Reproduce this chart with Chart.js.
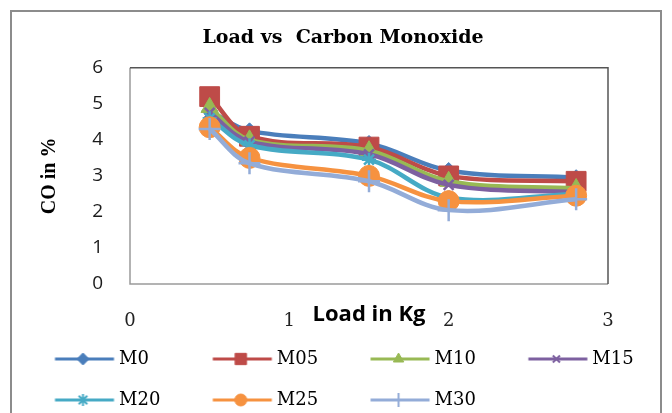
<!DOCTYPE html>
<html>
<head>
<meta charset="utf-8">
<script src="https://cdn.jsdelivr.net/npm/chart.js@4/dist/chart.umd.min.js"></script>
<style>
  html, body { margin: 0; padding: 0; background: #fff; }
</style>
</head>
<body>
<canvas id="chart" width="672" height="413"></canvas>
<script>
// load (kg) on the x axis, CO (%) for each blend
const loads = [0.5, 0.75, 1.5, 2, 2.8];
const m0  = [4.8, 4.25, 3.9, 3.15, 2.95];
const m05 = [5.2, 4.1, 3.8, 3.0, 2.85];
const m10 = [4.9, 4.0, 3.7, 2.85, 2.65];
const m15 = [4.75, 3.95, 3.6, 2.75, 2.55];
const m20 = [4.6, 3.85, 3.45, 2.4, 2.5];
const m25 = [4.35, 3.5, 3.0, 2.3, 2.45];
const m30 = [4.3, 3.35, 2.85, 2.05, 2.35];

const seriesNames = ['M0', 'M05', 'M10', 'M15', 'M20', 'M25', 'M30'];
const seriesValues = [m0, m05, m10, m15, m20, m25, m30];
const xTicks = [0, 1, 2, 3];
const yTicks = [0, 1, 2, 3, 4, 5, 6];

// excel 2007 palette
const colors = ['#4a7ebb', '#be4b48', '#98b954', '#7d60a0', '#46aac5', '#f69240', '#93acd8'];
const markers = ['rectRot', 'rect', 'triangle', 'crossRot', 'star', 'circle', 'cross'];
const markerSize = [8, 14, 10, 7, 7, 10.5, 11];
const legendMarker = [6, 8, 6, 5, 6, 6, 7];
const crossLike = ['crossRot', 'star', 'cross'];

// legend sample: line with the marker in the middle
function legendIcon(i) {
    const c = document.createElement('canvas');
    c.width = 120;
    c.height = 24;
    const g = c.getContext('2d');
    g.strokeStyle = colors[i];
    g.fillStyle = colors[i];
    g.lineWidth = 3;
    g.beginPath();
    g.moveTo(41.5, 12);
    g.lineTo(100.5, 12);
    g.stroke();
    g.lineWidth = crossLike.includes(markers[i]) ? 2 : 1;
    Chart.helpers.drawPoint(g, { pointStyle: markers[i], radius: legendMarker[i], rotation: 0, borderWidth: g.lineWidth }, 69.5, 12);
    return c;
}
const icons = seriesNames.map((n, i) => legendIcon(i));

const datasets = seriesValues.map((vals, i) => {
    return {
        label: seriesNames[i],
        data: loads.map((x, j) => ({ x: x, y: vals[j] })),
        showLine: true,
        borderColor: colors[i],
        backgroundColor: colors[i],
        borderWidth: 4.5,
        tension: 0.35,
        pointStyle: markers[i],
        pointRadius: markerSize[i],
        pointBorderWidth: crossLike.includes(markers[i]) ? 2.5 : 1,
        pointBorderColor: colors[i],
        pointBackgroundColor: colors[i],
        order: seriesNames.length - i // later series on top, like excel
    }
});

const framePlugin = {
    id: 'frame',
    beforeDatasetsDraw(chart) {
        const { ctx, chartArea: a } = chart;
        ctx.save();
        ctx.strokeStyle = '#8c8c8c';
        ctx.lineWidth = 2;
        ctx.strokeRect(11, 11, 650, 440);
        ctx.lineWidth = 1.5;
        ctx.strokeStyle = '#9a9a9a';
        ctx.beginPath();
        ctx.moveTo(a.left, a.top);
        ctx.lineTo(a.left, a.bottom);
        ctx.lineTo(a.right, a.bottom);
        ctx.stroke();
        ctx.strokeStyle = '#555';
        ctx.beginPath();
        ctx.moveTo(a.left, a.top);
        ctx.lineTo(a.right, a.top);
        ctx.lineTo(a.right, a.bottom);
        ctx.stroke();
        ctx.restore();
    }
};

new Chart(document.getElementById('chart'), {
    type: 'scatter',
    data: { datasets: datasets },
    plugins: [framePlugin],
    options: {
        responsive: false,
        animation: false,
        layout: { padding: { left: 14, right: 0, top: 0, bottom: -6 } },
        plugins: {
            tooltip: { enabled: false },
            title: {
                display: true,
                text: 'Load vs  Carbon Monoxide',
                color: '#000',
                font: { family: 'DejaVu Serif', size: 19, weight: 'bold' },
                padding: { top: 27, bottom: 18 }
            },
            legend: {
                position: 'bottom',
                align: 'start',
                onClick: null,
                labels: {
                    color: '#111',
                    font: { family: 'DejaVu Serif', size: 18 },
                    usePointStyle: true,
                    pointStyleWidth: 73,
                    boxHeight: 18,
                    padding: 23,
                    generateLabels: function (chart) {
                        return seriesNames.map((name, i) => ({
                            text: name + (name.length === 2 ? '    ' : '  '),
                            pointStyle: icons[i],
                            datasetIndex: i,
                            fillStyle: colors[i],
                            strokeStyle: colors[i],
                            lineWidth: 0,
                            hidden: false
                        }));
                    }
                }
            }
        },
        scales: {
            x: {
                type: 'linear',
                min: 0,
                max: 3,
                afterBuildTicks: s => { s.ticks = xTicks.map(v => ({ value: v })); },
                grid: { display: false, drawTicks: false },
                border: { display: false },
                ticks: {
                    padding: 27,
                    color: '#222',
                    font: { family: 'DejaVu Serif', size: 18 }
                },
                title: {
                    display: true,
                    text: 'Load in Kg',
                    color: '#000',
                    font: { family: 'Open Sans', size: 22, weight: 'bold' },
                    padding: { top: -58, bottom: -1 }
                }
            },
            y: {
                type: 'linear',
                min: 0,
                max: 6,
                afterBuildTicks: s => { s.ticks = yTicks.map(v => ({ value: v })); },
                afterFit: s => { s.width = 116; },
                grid: { display: false, drawTicks: false },
                border: { display: false },
                ticks: {
                    padding: 27,
                    color: '#1a1a1a',
                    font: { family: 'Open Sans', size: 19 }
                },
                title: {
                    display: true,
                    text: 'CO in %',
                    color: '#000',
                    font: { family: 'Liberation Serif', size: 20, weight: 'bold' },
                    padding: { top: 24, bottom: 0 }
                }
            },
            // empty right axis, only keeps the plot off the right edge
            yR: {
                position: 'right',
                min: 0,
                max: 1,
                afterFit: s => { s.width = 64; },
                grid: { display: false, drawTicks: false },
                border: { display: false },
                ticks: { display: false }
            }
        }
    }
});
</script>
</body>
</html>
